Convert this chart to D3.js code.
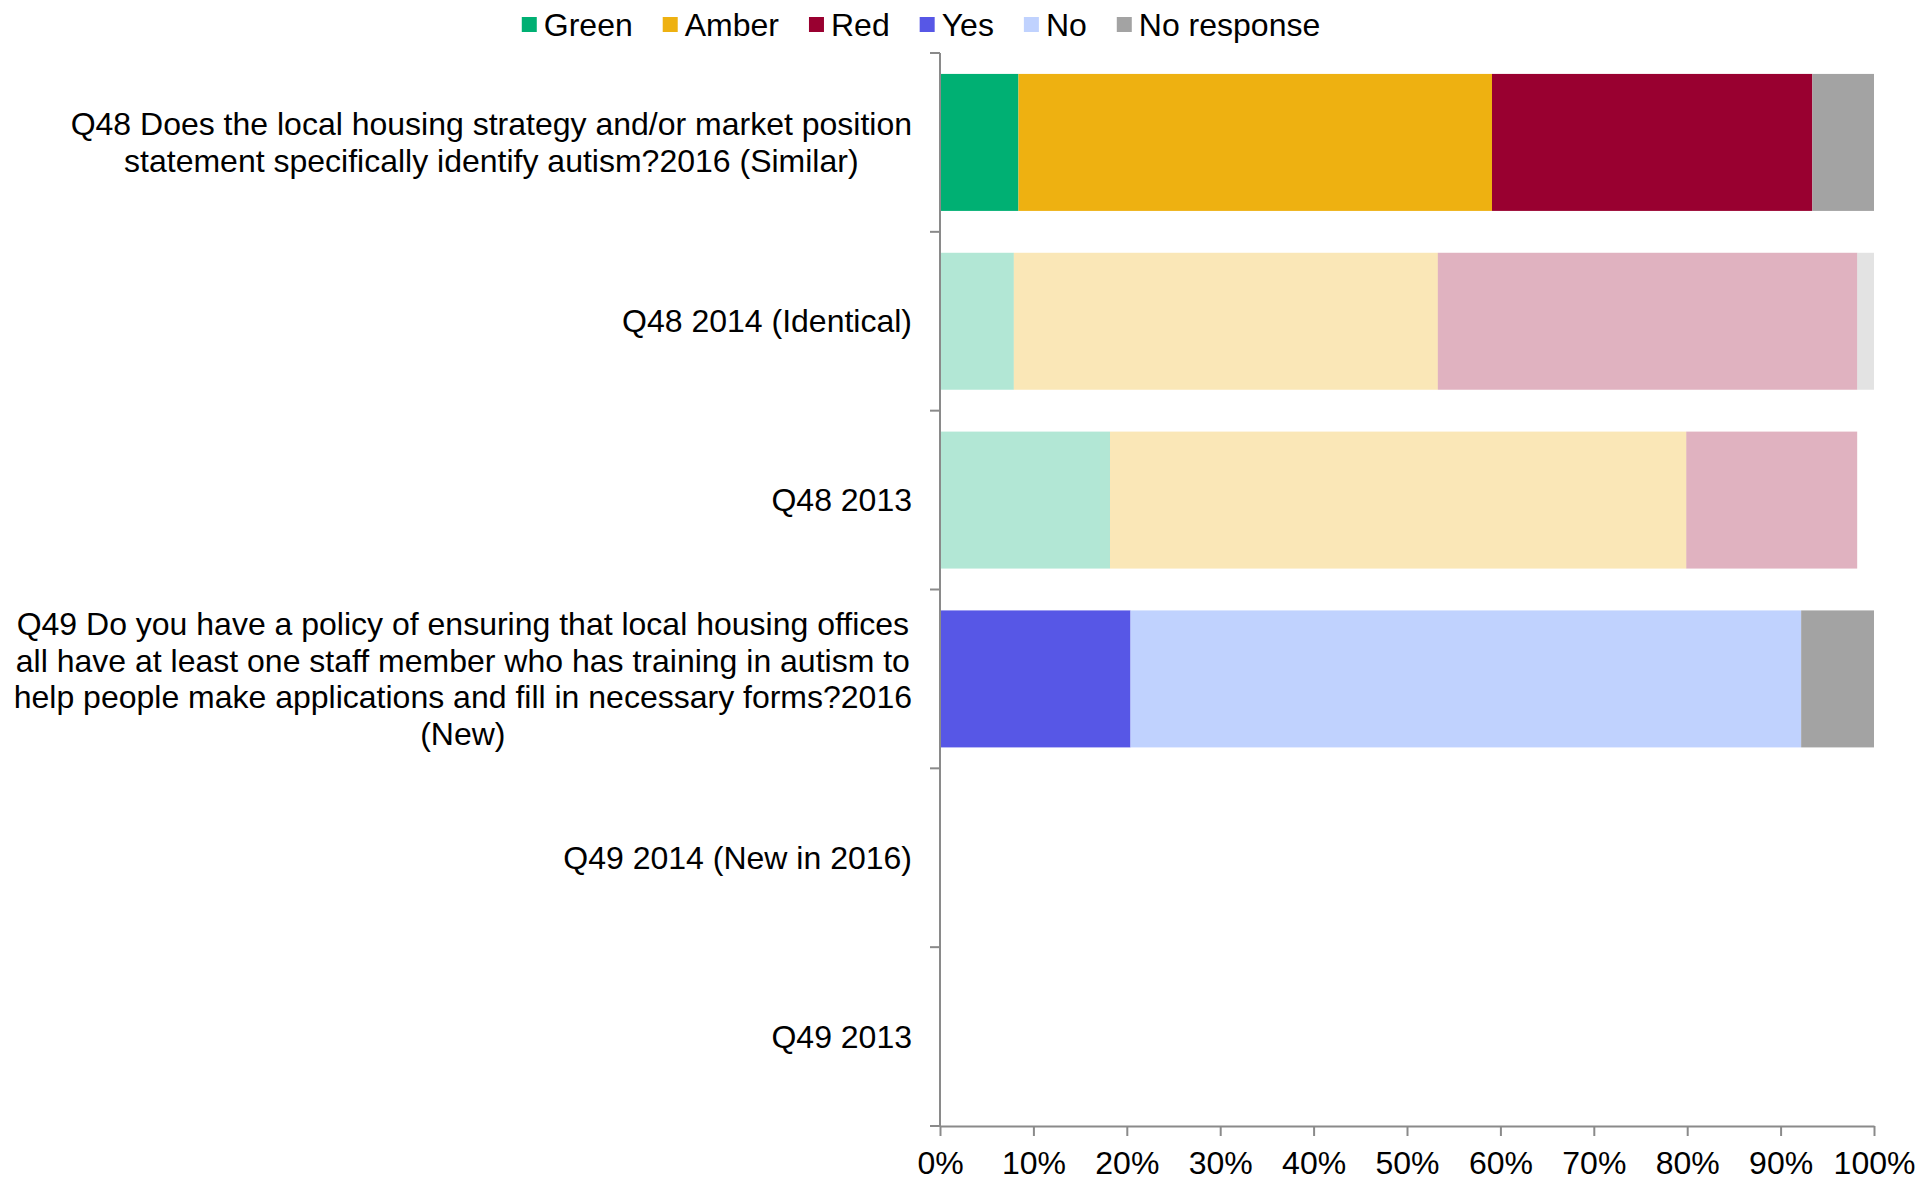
<!DOCTYPE html>
<html>
<head>
<meta charset="utf-8">
<script src="https://cdn.jsdelivr.net/npm/d3@7"></script>
<style>
  html, body { margin: 0; padding: 0; background: #fff; }
  svg { display: block; }
  text { font-family: "Liberation Sans", Arial, sans-serif; fill: #000; }
</style>
</head>
<body>
<svg id="chart" width="1919" height="1180"></svg>
<script>
// Survey questions (one bar per question / year); "\n" marks a line break in the label
const categories = [
  "Q48 Does the local housing strategy and/or market position\nstatement specifically identify autism?2016 (Similar)",
  "Q48 2014 (Identical)",
  "Q48 2013",
  "Q49 Do you have a policy of ensuring that local housing offices\nall have at least one staff member who has training in autism to\nhelp people make applications and fill in necessary forms?2016\n(New)",
  "Q49 2014 (New in 2016)",
  "Q49 2013"
];

// Response shares, percent of respondents
const seriesKeys = ["Green", "Amber", "Red", "Yes", "No", "No response"];
const green      = [8.4, 7.9, 18.2, 0, 0, 0];
const amber      = [50.7, 45.4, 61.7, 0, 0, 0];
const red        = [34.3, 44.9, 18.3, 0, 0, 0];
const yes        = [0, 0, 0, 20.4, 0, 0];
const no         = [0, 0, 0, 71.8, 0, 0];
const noResponse = [6.6, 1.8, 0, 7.8, 0, 0];

const xTicks = [0, 10, 20, 30, 40, 50, 60, 70, 80, 90, 100];

// ---- presentation ----
const colors = {
  "Green": "#00B073",
  "Amber": "#EEB111",
  "Red": "#990030",
  "Yes": "#5757E6",
  "No": "#C0D2FE",
  "No response": "#A3A3A3"
};
// Current-year rows are drawn at full strength, earlier years faded
const fullStrengthRows = new Set([0, 3]);

const FONT = 32;
const margin = { left: 940, right: 1874, top: 53, bottom: 1126 };

const table = categories.map((c, i) => ({
  category: c,
  "Green": green[i], "Amber": amber[i], "Red": red[i],
  "Yes": yes[i], "No": no[i], "No response": noResponse[i]
}));

const svg = d3.select("#chart");

const x = d3.scaleLinear().domain([0, 100]).range([margin.left, margin.right]);
const y = d3.scaleBand()
  .domain(categories)
  .range([margin.top, margin.bottom])
  .paddingInner(0.234)
  .paddingOuter(0.117);

const stacked = d3.stack().keys(seriesKeys)(table);

// Bars
const layers = svg.append("g").selectAll("g")
  .data(stacked)
  .join("g")
  .attr("fill", d => colors[d.key]);

layers.selectAll("rect")
  .data(d => d.map((v, i) => ({ v, i })))
  .join("rect")
  .filter(d => d.v[1] - d.v[0] > 0)
  .attr("x", d => x(d.v[0]))
  .attr("y", d => y(d.v.data.category))
  .attr("width", d => x(d.v[1]) - x(d.v[0]))
  .attr("height", y.bandwidth())
  .attr("fill-opacity", d => fullStrengthRows.has(d.i) ? 1 : 0.3);

// X axis
const xAxis = svg.append("g")
  .attr("transform", `translate(0,${margin.bottom})`)
  .call(d3.axisBottom(x).tickValues(xTicks).tickFormat(d => d + "%").tickSize(10).tickPadding(15).tickSizeOuter(0));
xAxis.select(".domain").attr("stroke", "#8a8a8a").attr("stroke-width", 2);
xAxis.selectAll(".tick line").attr("stroke", "#8a8a8a").attr("stroke-width", 2);
xAxis.selectAll(".tick text").style("font-size", FONT + "px").attr("fill", "#000");

// Category axis: a line with ticks on band boundaries
const step = y.step();
const boundaries = d3.range(categories.length + 1).map(i => margin.top + i * step);
const yAxis = svg.append("g");
yAxis.append("line")
  .attr("x1", margin.left).attr("x2", margin.left)
  .attr("y1", margin.top).attr("y2", margin.bottom)
  .attr("stroke", "#8a8a8a").attr("stroke-width", 2);
yAxis.selectAll("line.tick")
  .data(boundaries)
  .join("line")
  .attr("class", "tick")
  .attr("x1", margin.left - 10).attr("x2", margin.left)
  .attr("y1", d => d).attr("y2", d => d)
  .attr("stroke", "#8a8a8a").attr("stroke-width", 2);

// Category labels: centred lines inside a right-aligned block
const labelRight = 912;
const lineHeight = 36.7;
categories.forEach(c => {
  const lines = c.split("\n");
  const g = svg.append("g");
  const texts = lines.map((ln, k) => g.append("text")
    .style("font-size", FONT + "px")
    .attr("text-anchor", "middle")
    .attr("dy", "0.35em")
    .attr("y", y(c) + y.bandwidth() / 2 + (k - (lines.length - 1) / 2) * lineHeight)
    .text(ln));
  const maxW = d3.max(texts, t => t.node().getComputedTextLength());
  texts.forEach(t => t.attr("x", labelRight - maxW / 2));
});

// Legend
const legend = svg.append("g");
let cursor = 0;
seriesKeys.forEach(k => {
  const item = legend.append("g").attr("transform", `translate(${cursor},0)`);
  item.append("rect").attr("x", 0).attr("y", 17).attr("width", 15).attr("height", 15).attr("fill", colors[k]);
  const t = item.append("text").attr("x", 22).attr("y", 25).attr("dy", "0.35em")
    .style("font-size", FONT + "px").text(k);
  cursor += 22 + t.node().getComputedTextLength() + 30;
});
const legendWidth = cursor - 30;
legend.attr("transform", `translate(${921 - legendWidth / 2},0)`);
</script>
</body>
</html>
